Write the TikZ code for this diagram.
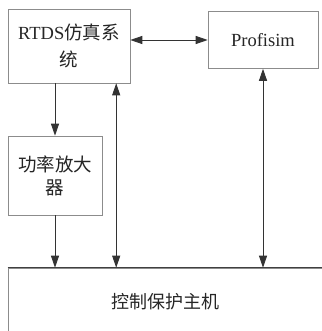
\documentclass[tikz,border=0pt]{standalone}
\usepackage{fontspec}
\setmainfont{Liberation Serif}
\newfontfamily\cjk{Noto Sans CJK SC}
\usetikzlibrary{arrows.meta,calc}
\begin{document}
\begin{tikzpicture}[x=1pt,y=-1pt,
  box/.style={draw=black!45,line width=0.6pt,rectangle,inner sep=0pt,align=center},
  tip/.style={Triangle[length=12pt,width=8pt]},
  arr/.style={draw=black!80,line width=0.9pt,-{Triangle[length=12pt,width=8pt]}},
  arrb/.style={draw=black!80,line width=0.9pt,{Triangle[length=12pt,width=8pt]}-{Triangle[length=12pt,width=8pt]}},
  lbl/.style={text=black!85}]
\useasboundingbox[fill=white] (0,0) rectangle (321,331);
\node[box,minimum width=122pt,minimum height=74pt,lbl,font=\fontsize{18.5}{27}\selectfont] (rtds) at (69,46) {RTDS{\cjk 仿真系}\\{\cjk 统}};
\node[box,minimum width=110pt,minimum height=57pt,lbl,font=\fontsize{18.5}{22}\selectfont] (prof) at (263,40) {Profisim};
\node[box,minimum width=94pt,minimum height=79pt,lbl,font=\fontsize{18.5}{23}\selectfont] (amp) at (55,175.5) {{\cjk 功率放大}\\{\cjk 器}};
\node[box,minimum width=324pt,minimum height=84pt] (host) at (170,310) {};
\draw[draw=black!75,line width=0.9pt] (host.north west) -- (host.north east);
\node[lbl,font=\fontsize{18}{20}\selectfont\cjk] (hosttext) at (165,302) {控制保护主机};
\draw[arr] (amp.north |- rtds.south) -- (amp.north);
\draw[arr] (amp.south) -- (amp.south |- host.north);
\coordinate (mid) at ($(rtds.south west)!0.885!(rtds.south east)$);
\draw[arrb] (mid) -- (mid |- host.north);
\draw[arrb] (prof.south) -- (prof.south |- host.north);
\draw[arrb] (rtds.east |- prof.west) -- (prof.west);
\end{tikzpicture}
\end{document}
